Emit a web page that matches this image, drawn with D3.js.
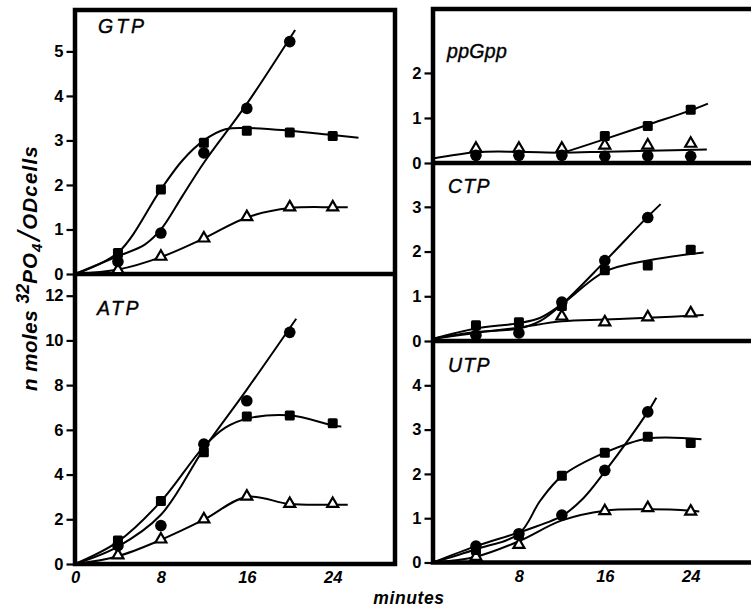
<!DOCTYPE html>
<html>
<head>
<meta charset="utf-8">
<script src="https://cdn.jsdelivr.net/npm/d3@7"></script>
<style>
  html, body { margin: 0; padding: 0; background: #fff; }
  svg { display: block; }
  text { font-family: "Liberation Sans", Arial, sans-serif; fill: #000; }
</style>
</head>
<body>
<svg id="chart" width="751" height="609"></svg>
<script>
// ---------------- DATA ----------------
const minutes = [4, 8, 12, 16, 20, 24];

// GTP
const gtpCircle   = [0.28, 0.92, 2.72, 3.72, 5.22, null];
const gtpSquare   = [0.47, 1.90, 2.95, 3.22, 3.18, 3.10];
const gtpTriangle = [0.08, 0.38, 0.79, 1.27, 1.49, 1.49];
const gtpCircleFit   = [[0,0],[4,0.40],[6.5,0.66],[8,1.0],[10,1.75],[12,2.5],[16,3.82],[20.5,5.48]];
const gtpSquareFit   = [[0,0],[4,0.48],[8,1.9],[10,2.55],[12,3.0],[14,3.25],[16,3.28],[20,3.22],[24,3.12],[26.4,3.06]];
const gtpTriangleFit = [[0,0],[4,0.10],[8,0.38],[12,0.8],[16,1.27],[20,1.48],[24,1.5],[25.4,1.5]];

// ATP
const atpCircle   = [0.82, 1.72, 5.36, 7.30, 10.36, null];
const atpSquare   = [1.05, 2.82, 5.00, 6.60, 6.64, 6.30];
const atpTriangle = [0.37, 1.08, 1.98, 3.00, 2.67, 2.67];
const atpCircleFit   = [[0,0],[4,0.78],[8,2.2],[12,5.15],[16,7.8],[20.6,10.97]];
const atpSquareFit   = [[0,0],[4,1.0],[8,2.8],[12,5.25],[14,6.1],[16,6.5],[20,6.65],[24,6.2],[24.8,6.15]];
const atpTriangleFit = [[0,0],[4,0.35],[8,1.08],[12,1.98],[16,3.0],[20,2.68],[24,2.65],[25.4,2.65]];

// ppGpp
const ppCircle   = [0.17, 0.17, 0.17, 0.15, 0.16, 0.15];
const ppSquare   = [null, null, null, 0.60, 0.82, 1.18];
const ppTriangle = [0.31, 0.31, 0.31, 0.38, 0.38, 0.42];
const ppFlatFit   = [[0,0.1],[4,0.24],[8,0.25],[12,0.23],[16,0.25],[20,0.27],[25.5,0.3]];
const ppSquareFit = [[12,0.22],[16,0.53],[20,0.85],[24,1.17],[25.6,1.32]];

// CTP
const ctpCircle   = [0.13, 0.18, 0.87, 1.80, 2.76, null];
const ctpSquare   = [0.35, 0.42, 0.78, 1.58, 1.69, 2.04];
const ctpTriangle = [null, null, 0.54, 0.41, 0.52, 0.61];
const ctpCircleFit   = [[0,0.05],[4,0.2],[8,0.28],[10,0.45],[12,0.82],[16,1.78],[20,2.78],[21.2,3.06]];
const ctpSquareFit   = [[0,0.05],[4,0.28],[8,0.4],[10,0.52],[12,0.82],[16,1.55],[20,1.8],[25.2,1.98]];
const ctpTriangleFit = [[0,0.05],[4,0.18],[8,0.3],[12,0.44],[16,0.48],[20,0.52],[25.2,0.58]];

// UTP
const utpCircle   = [0.37, 0.65, 1.07, 2.08, 3.40, null];
const utpSquare   = [0.28, 0.62, 1.96, 2.48, 2.84, 2.70];
const utpTriangle = [0.12, 0.39, null, 1.15, 1.22, 1.14];
const utpCircleFit   = [[0,0],[4,0.37],[8,0.68],[12,1.05],[14,1.45],[16,2.05],[20,3.4],[20.8,3.72]];
const utpSquareFit   = [[0,0],[4,0.3],[8,0.65],[10,1.4],[12,1.95],[16,2.48],[20,2.8],[25,2.78]];
const utpTriangleFit = [[0,0],[4,0.13],[8,0.48],[12,0.95],[16,1.17],[20,1.2],[24,1.17],[24.8,1.15]];

// ticks / labels
const gtpTicks = [0,1,2,3,4,5];
const atpTicks = [0,2,4,6,8,10,12];
const ppTicks  = [0,1,2];
const ctpTicks = [0,1,2,3];
const utpTicks = [0,1,2,3,4];
const leftXTicks  = [0,8,16,24];
const rightXTicks = [8,16,24];
const panelTitles = ["GTP","ATP","ppGpp","CTP","UTP"];
const xTitle = "minutes";

// ---------------- LAYOUT ----------------
const svg = d3.select("#chart");
const xLeft  = d3.scaleLinear().domain([0, 29.8]).range([75, 395]);
const xRight = d3.scaleLinear().domain([0, 29.8]).range([433, 753]);

const panels = [
  {title: panelTitles[0], x: xLeft,  y: d3.scaleLinear().domain([0,5.93]).range([274,10]),  ticks: gtpTicks,
   circle: gtpCircle, square: gtpSquare, triangle: gtpTriangle, fits: [gtpCircleFit, gtpSquareFit, gtpTriangleFit], tpos:[98,33], ls: 3},
  {title: panelTitles[1], x: xLeft,  y: d3.scaleLinear().domain([0,12.97]).range([564,274]), ticks: atpTicks,
   circle: atpCircle, square: atpSquare, triangle: atpTriangle, fits: [atpCircleFit, atpSquareFit, atpTriangleFit], tpos:[97,315], ls: 2.5},
  {title: panelTitles[2], x: xRight, y: d3.scaleLinear().domain([0,3.42]).range([163,9]),   ticks: ppTicks,
   circle: ppCircle, square: ppSquare, triangle: ppTriangle, fits: [ppFlatFit, ppSquareFit], tpos:[447,58], ls: 0.3},
  {title: panelTitles[3], x: xRight, y: d3.scaleLinear().domain([0,3.98]).range([341,163]), ticks: ctpTicks,
   circle: ctpCircle, square: ctpSquare, triangle: ctpTriangle, fits: [ctpCircleFit, ctpSquareFit, ctpTriangleFit], tpos:[448,193], ls: 1.2},
  {title: panelTitles[4], x: xRight, y: d3.scaleLinear().domain([0,5.0]).range([562.5,341]), ticks: utpTicks,
   circle: utpCircle, square: utpSquare, triangle: utpTriangle, fits: [utpCircleFit, utpSquareFit, utpTriangleFit], tpos:[448,372], ls: 1.2}
];

const frame = svg.append("g").attr("stroke", "#000").attr("stroke-width", 4.5).attr("fill", "none");
// left box
frame.append("rect").attr("x", xLeft(0)).attr("y", 10).attr("width", xLeft(29.8) - xLeft(0)).attr("height", 564 - 10);
frame.append("line").attr("x1", xLeft(0)).attr("x2", xLeft(29.8)).attr("y1", panels[0].y(0)).attr("y2", panels[0].y(0));
// right box (open at the right edge)
frame.append("path").attr("d", `M760,9 H${xRight(0)} V${panels[4].y(0)} H760`);
frame.append("line").attr("x1", xRight(0)).attr("x2", 760).attr("y1", panels[2].y(0)).attr("y2", panels[2].y(0));
frame.append("line").attr("x1", xRight(0)).attr("x2", 760).attr("y1", panels[3].y(0)).attr("y2", panels[3].y(0));

const line = (p) => d3.line().x(d => p.x(d[0])).y(d => p.y(d[1])).curve(d3.curveCatmullRom.alpha(0.5));

panels.forEach(p => {
  const g = svg.append("g");
  // y ticks & labels
  const yAxis = d3.axisLeft(p.y).tickValues(p.ticks).tickSize(7).tickPadding(3).tickFormat(d3.format("d"));
  const ax = g.append("g").attr("transform", `translate(${p.x(0) - 1.5},0)`).call(yAxis);
  ax.select(".domain").remove();
  ax.selectAll(".tick line").attr("stroke", "#000").attr("stroke-width", 2.2);
  ax.selectAll(".tick text").attr("font-size", 16.5).attr("font-weight", "bold").attr("fill", "#000")
    .attr("font-family", "'Liberation Sans', Arial, sans-serif");

  // title
  g.append("text").attr("x", p.tpos[0]).attr("y", p.tpos[1]).attr("font-size", 19.5).attr("font-style", "italic")
    .attr("letter-spacing", p.ls).attr("stroke", "#000").attr("stroke-width", 0.4).text(p.title);

  // fitted curves
  p.fits.forEach(f => {
    g.append("path").attr("d", line(p)(f)).attr("fill", "none").attr("stroke", "#000").attr("stroke-width", 2);
  });

  const pts = (arr) => minutes.map((t, i) => ({t, v: arr[i]})).filter(d => d.v != null);
  // triangles (open)
  const tri = d3.symbol().type(d3.symbolTriangle).size(52);
  g.selectAll(".tri").data(pts(p.triangle)).join("path")
    .attr("d", tri).attr("transform", d => `translate(${p.x(d.t)},${p.y(d.v) - 0.5})`)
    .attr("fill", "#fff").attr("stroke", "#000").attr("stroke-width", 2.2);
  // squares
  g.selectAll(".sq").data(pts(p.square)).join("rect")
    .attr("x", d => p.x(d.t) - 5).attr("y", d => p.y(d.v) - 5).attr("width", 10).attr("height", 10)
    .attr("rx", 1.5).attr("fill", "#000");
  // circles
  g.selectAll(".ci").data(pts(p.circle)).join("circle")
    .attr("cx", d => p.x(d.t)).attr("cy", d => p.y(d.v)).attr("r", 5.8).attr("fill", "#000");
});

// x tick labels
const xlab = (scale, ticks, yBase) => {
  const ax = svg.append("g").attr("transform", `translate(0,${yBase})`)
    .call(d3.axisBottom(scale).tickValues(ticks).tickSize(0).tickPadding(5).tickFormat(d3.format("d")));
  ax.select(".domain").remove();
  ax.selectAll(".tick text").attr("font-size", 16.5).attr("font-weight", "bold").attr("font-style", "italic")
    .attr("fill", "#000").attr("font-family", "'Liberation Sans', Arial, sans-serif");
};
xlab(xLeft, leftXTicks, 566);
xlab(xRight, rightXTicks, 565);

// x title
svg.append("text").attr("x", 409).attr("y", 604).attr("text-anchor", "middle")
  .attr("font-size", 17.5).attr("font-weight", "bold").attr("font-style", "italic").attr("letter-spacing", 0.6)
  .text(xTitle);

// y title
const yt = svg.append("text").attr("transform", "translate(37,268) rotate(-90)")
  .attr("text-anchor", "middle").attr("font-size", 20.5).attr("font-weight", "bold").attr("font-style", "italic");
yt.append("tspan").attr("letter-spacing", 0.5).text("n moles ");
yt.append("tspan").attr("font-size", 18).attr("dy", -8).text("32");
yt.append("tspan").attr("dy", 8).attr("letter-spacing", 1).text("PO");
yt.append("tspan").attr("font-size", 15).attr("dy", 5).text("4");
yt.append("tspan").attr("font-size", 32).attr("dy", -2).attr("dx", 3).attr("font-weight", "normal").text("/");
yt.append("tspan").attr("dy", -3).attr("dx", 2).attr("letter-spacing", 1.2).text("ODcells");
</script>
</body>
</html>
